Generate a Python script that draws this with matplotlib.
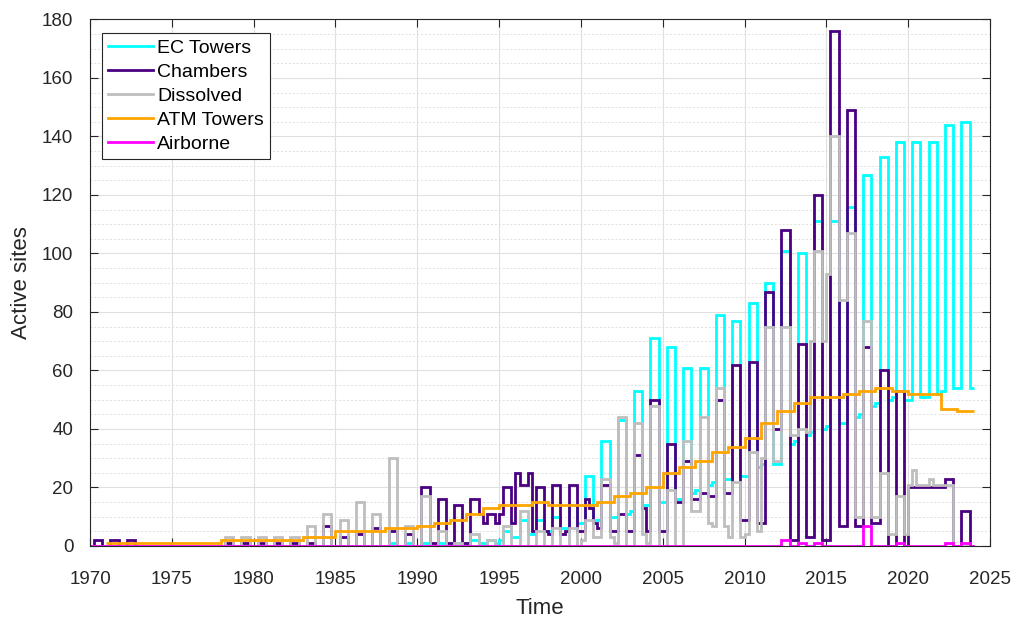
import numpy as np
import matplotlib
matplotlib.use("Agg")
import matplotlib.pyplot as plt

# Quarterly values (Q1, Q2, Q3, Q4), one row per year from 1970 to 2023
start_year = 1970

ec_towers = [
    [0, 0, 0, 0], [0, 0, 0, 0], [0, 0, 0, 0], [0, 0, 0, 0], [0, 0, 0, 0],  # 1970-74
    [0, 0, 0, 0], [0, 0, 0, 0], [0, 0, 0, 0], [0, 0, 0, 0], [0, 0, 0, 0],  # 1975-79
    [0, 0, 0, 0], [0, 0, 0, 0], [0, 0, 0, 0], [0, 0, 0, 0], [0, 0, 0, 0],  # 1980-84
    [0, 0, 0, 0], [0, 0, 0, 0], [0, 0, 0, 0], [0, 1, 1, 0], [0, 1, 1, 0],  # 1985-89
    [0, 1, 1, 0], [0, 1, 1, 0], [0, 1, 1, 0], [1, 2, 2, 1], [1, 2, 2, 1],  # 1990-94
    [2, 5, 5, 3], [3, 9, 9, 4], [4, 9, 9, 5], [5, 10, 10, 6], [6, 14, 14, 8],  # 1995-99
    [8, 24, 24, 9], [9, 36, 36, 10], [10, 43, 43, 11], [12, 53, 53, 14], [14, 71, 71, 15],  # 2000-04
    [15, 68, 68, 16], [16, 61, 61, 18], [19, 61, 61, 21], [22, 79, 79, 23], [23, 77, 77, 24],  # 2005-09
    [24, 83, 83, 27], [28, 90, 90, 28], [28, 101, 101, 35], [36, 100, 100, 38], [39, 111, 111, 40],  # 2010-14
    [41, 111, 111, 42], [42, 116, 116, 44], [45, 127, 127, 48], [49, 133, 133, 50], [51, 138, 138, 50],  # 2015-19
    [50, 138, 138, 51], [51, 138, 138, 52], [53, 144, 144, 54], [54, 145, 145, 54],  # 2020-23
]

chambers = [
    [0, 2, 2, 0], [0, 2, 2, 0], [0, 2, 2, 0], [0, 0, 0, 0], [0, 0, 0, 0],  # 1970-74
    [0, 0, 0, 0], [0, 0, 0, 0], [0, 0, 0, 0], [0, 1, 1, 0], [0, 1, 1, 0],  # 1975-79
    [0, 1, 1, 0], [0, 1, 1, 0], [0, 1, 1, 0], [0, 1, 1, 0], [0, 7, 7, 0],  # 1980-84
    [0, 3, 3, 0], [0, 4, 4, 0], [0, 6, 6, 0], [0, 5, 5, 0], [0, 4, 4, 0],  # 1985-89
    [0, 20, 20, 1], [1, 16, 16, 1], [1, 14, 14, 1], [1, 16, 16, 11], [8, 11, 11, 8],  # 1990-94
    [11, 20, 20, 8], [25, 21, 21, 25], [5, 20, 20, 5], [4, 21, 21, 4], [5, 21, 21, 5],  # 1995-99
    [5, 16, 13, 8], [6, 21, 21, 5], [5, 11, 11, 5], [5, 31, 31, 13], [5, 50, 50, 5],  # 2000-04
    [5, 35, 35, 15], [15, 29, 29, 16], [16, 18, 18, 17], [17, 50, 50, 18], [18, 62, 62, 9],  # 2005-09
    [9, 63, 63, 8], [8, 87, 87, 40], [40, 108, 108, 2], [2, 69, 69, 3], [3, 120, 120, 2],  # 2010-14
    [2, 176, 176, 7], [7, 149, 149, 7], [7, 68, 68, 8], [8, 60, 60, 0], [0, 53, 53, 0],  # 2015-19
    [20, 20, 20, 20], [20, 20, 20, 20], [20, 23, 23, 0], [0, 12, 12, 0],  # 2020-23
]

dissolved = [
    [0, 0, 0, 0], [0, 0, 0, 0], [0, 0, 0, 0], [0, 0, 0, 0], [0, 0, 0, 0],  # 1970-74
    [0, 0, 0, 0], [0, 0, 0, 0], [0, 0, 0, 0], [0, 3, 3, 0], [0, 3, 3, 0],  # 1975-79
    [0, 3, 3, 0], [0, 3, 3, 0], [0, 3, 3, 0], [0, 7, 7, 0], [0, 11, 11, 0],  # 1980-84
    [0, 9, 9, 0], [0, 15, 15, 0], [0, 11, 11, 0], [0, 30, 30, 0], [0, 7, 7, 0],  # 1985-89
    [0, 17, 17, 0], [0, 5, 5, 0], [0, 1, 1, 0], [0, 4, 4, 0], [0, 2, 2, 0],  # 1990-94
    [0, 7, 7, 0], [0, 12, 12, 0], [0, 5, 5, 0], [0, 6, 6, 0], [0, 6, 6, 0],  # 1995-99
    [2, 9, 9, 3], [3, 23, 23, 3], [1, 44, 44, 0], [0, 42, 42, 4], [1, 48, 48, 0],  # 2000-04
    [0, 19, 19, 0], [0, 36, 36, 12], [12, 44, 44, 8], [7, 54, 54, 7], [3, 22, 22, 3],  # 2005-09
    [4, 32, 32, 5], [30, 75, 75, 29], [29, 75, 75, 38], [38, 40, 40, 39], [70, 101, 101, 70],  # 2010-14
    [93, 140, 140, 84], [84, 107, 107, 10], [10, 77, 77, 10], [10, 25, 25, 4], [4, 17, 17, 4],  # 2015-19
    [21, 26, 21, 21], [21, 23, 21, 21], [21, 21, 21, 0], [0, 0, 0, 0],  # 2020-23
]

# ATM towers change once a year, 1971-2023
atm_start = 1971
atm_towers = [1, 1, 1, 1, 1, 1, 1, 2, 2, 2, 2, 2, 3, 3, 5, 5, 5, 6, 6,
              7, 8, 9, 11, 13, 14, 14, 15, 14, 14, 14, 15, 17, 18, 20,
              25, 27, 29, 32, 34, 37, 42, 46, 49, 51, 51, 52, 53, 54, 53,
              52, 52, 47, 46]

airborne = [
    [0, 0, 0, 0], [0, 0, 0, 0], [0, 0, 0, 0], [0, 0, 0, 0], [0, 0, 0, 0],  # 1970-74
    [0, 0, 0, 0], [0, 0, 0, 0], [0, 0, 0, 0], [0, 0, 0, 0], [0, 0, 0, 0],  # 1975-79
    [0, 0, 0, 0], [0, 0, 0, 0], [0, 0, 0, 0], [0, 0, 0, 0], [0, 0, 0, 0],  # 1980-84
    [0, 0, 0, 0], [0, 0, 0, 0], [0, 0, 0, 0], [0, 0, 0, 0], [0, 0, 0, 0],  # 1985-89
    [0, 0, 0, 0], [0, 0, 0, 0], [0, 0, 0, 0], [0, 0, 0, 0], [0, 0, 0, 0],  # 1990-94
    [0, 0, 0, 0], [0, 0, 0, 0], [0, 0, 0, 0], [0, 0, 0, 0], [0, 0, 0, 0],  # 1995-99
    [0, 0, 0, 0], [0, 0, 0, 0], [0, 0, 0, 0], [0, 0, 0, 0], [0, 0, 0, 0],  # 2000-04
    [0, 0, 0, 0], [0, 0, 0, 0], [0, 0, 0, 0], [0, 0, 0, 0], [0, 0, 0, 0],  # 2005-09
    [0, 0, 0, 0], [0, 0, 0, 0], [0, 2, 2, 0], [0, 1, 1, 0], [0, 1, 1, 0],  # 2010-14
    [0, 0, 0, 0], [0, 0, 0, 0], [0, 7, 7, 0], [0, 0, 0, 0], [0, 1, 1, 0],  # 2015-19
    [0, 0, 0, 0], [0, 0, 0, 0], [0, 1, 1, 0], [0, 1, 1, 0],  # 2020-23
]

labels = ["EC Towers", "Chambers", "Dissolved", "ATM Towers", "Airborne"]
colors = ["#00ffff", "#4b0082", "#bebebe", "#ffa500", "#ff00ff"]

plt.rcParams["font.family"] = ["Liberation Sans", "DejaVu Sans"]

fig = plt.figure(figsize=(10.15, 6.17), dpi=100)
ax = fig.add_axes([0.0887, 0.1151, 0.8867, 0.8533])

def quarter_edges(first_year, n):
    return first_year + np.arange(n + 1) / 4.0

series = [ec_towers, chambers, dissolved]
for data, lab, col in zip(series, labels[:3], colors[:3]):
    vals = np.array(data, dtype=float).ravel()
    ax.stairs(vals, quarter_edges(start_year, len(vals)), baseline=None,
              color=col, linewidth=2, label=lab)

atm = np.array(atm_towers, dtype=float)
ax.stairs(atm, atm_start + np.arange(len(atm) + 1), baseline=None,
          color=colors[3], linewidth=2, label=labels[3])

air = np.array(airborne, dtype=float).ravel()
ax.stairs(air, quarter_edges(start_year, len(air)), baseline=None,
          color=colors[4], linewidth=2, label=labels[4])

ax.set_xlim(1970, 2025)
ax.set_ylim(0, 180)
ax.set_xticks(np.arange(1970, 2026, 5))
ax.set_yticks(np.arange(0, 181, 20))
ax.set_yticks(np.arange(0, 181, 5), minor=True)

ax.grid(True, which="major", color="#e0e0e0", linewidth=0.8)
ax.grid(True, which="minor", axis="y", color="#e0e0e0", linewidth=0.7, linestyle=(0, (2, 2)))
ax.set_axisbelow(True)

ax.tick_params(which="both", direction="in", top=True, right=True,
               colors="#262626", labelsize=13.5, length=6, width=0.8)
ax.tick_params(axis="x", pad=18)
ax.tick_params(axis="y", pad=12)
ax.tick_params(which="minor", length=0)
for sp in ax.spines.values():
    sp.set_color("#262626")
    sp.set_linewidth(0.8)

ax.set_xlabel("Time", fontsize=16, color="#262626", labelpad=7)
ax.set_ylabel("Active sites", fontsize=16, color="#262626", labelpad=7)

leg = ax.legend(loc="upper left", bbox_to_anchor=(0.0133, 0.974), fontsize=14,
                frameon=True, fancybox=False, framealpha=1, edgecolor="#262626",
                handlelength=2.3, handletextpad=0.25, borderpad=0.3, labelspacing=0.33,
                borderaxespad=0)
leg.get_frame().set_linewidth(0.8)

fig.savefig("out.png", dpi=100)
